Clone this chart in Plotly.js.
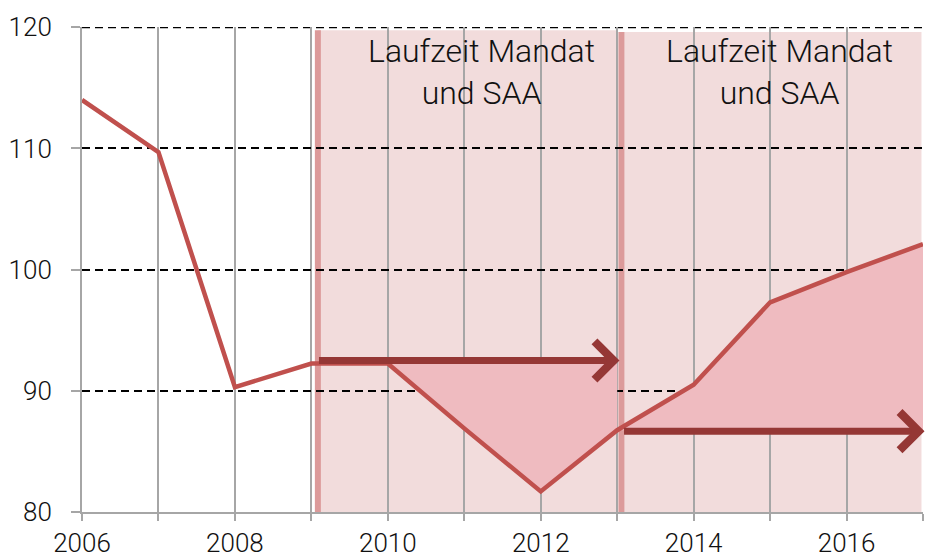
<!DOCTYPE html>
<html>
<head>
<meta charset="utf-8">
<script src="https://cdn.plot.ly/plotly-3.0.1.min.js"></script>
<style>html,body{margin:0;padding:0;background:#fff;}#chart{width:931px;height:558px;}</style>
</head>
<body>
<div id="chart"></div>
<script>
// ---- data ----
const years  = [2006, 2007, 2008, 2009, 2010, 2011, 2012, 2013, 2014, 2015, 2016, 2017];
const values = [114.0, 109.7, 90.3, 92.25, 92.25, 86.9, 81.7, 86.75, 90.5, 97.3, 99.8, 102.1];
const tickLabels = ['2006', '', '2008', '', '2010', '', '2012', '', '2014', '', '2016', ''];
const yTicks = [80, 90, 100, 110, 120];

// mandate periods (shaded bands) and target arrows
const mandateStart = [2009.08, 2013.05];
const mandateEnd   = [2013.0, 2016.98];
const mandateTop   = [119.75, 119.6];
const mandateLabel = ['Laufzeit Mandat<br>und SAA', 'Laufzeit Mandat<br>und SAA'];
const labelX       = [2011.23, 2015.12];
const arrowFrom    = [2009.08, 2013.07];
const arrowTo      = [2013.03, 2017.02];
const arrowLevel   = [92.5, 86.67];
// areas between line and target level
const area1X = [2010, 2011, 2012, 2013];
const area1Base = 92.25;
const area2X = [2013, 2014, 2015, 2016, 2017];
const area2Base = 86.75;

function valAt(x) { return values[years.indexOf(x)]; }

const lineColor = '#c0504d';
const arrowColor = '#953735';
const bandColor = '#f2dcdc';
const stripeColor = '#dc9a9a';
const areaColor = '#efbbc0';

const a1x = area1X.concat([area1X[area1X.length-1], area1X[0]]);
const a1y = area1X.map(valAt).concat([area1Base, area1Base]);
const a2x = area2X.concat([area2X[area2X.length-1], area2X[0]]);
const a2y = area2X.map(valAt).concat([area2Base, area2Base]);

const traces = [
  {x: a1x, y: a1y, type: 'scatter', mode: 'lines', fill: 'toself', fillcolor: areaColor,
   line: {width: 0, color: areaColor}, hoverinfo: 'skip', showlegend: false},
  {x: a2x, y: a2y, type: 'scatter', mode: 'lines', fill: 'toself', fillcolor: areaColor,
   line: {width: 0, color: areaColor}, hoverinfo: 'skip', showlegend: false},
  {x: years, y: values, type: 'scatter', mode: 'lines',
   line: {color: lineColor, width: 4.5}, showlegend: false}
];

const yMax = yTicks[yTicks.length - 1];
const shapes = [
  // top dashed gridline (Plotly drops the gridline at the range edge)
  {type: 'line', xref: 'paper', yref: 'y', x0: 0, x1: 1, y0: yMax, y1: yMax,
   line: {color: '#000', width: 2, dash: '8px,5px'}, layer: 'below'}
];
const annotations = [];
for (let i = 0; i < mandateStart.length; i++) {
  shapes.push({type: 'rect', xref: 'x', yref: 'y', x0: mandateStart[i], x1: mandateEnd[i],
    y0: 80, y1: mandateTop[i], fillcolor: bandColor, line: {width: 0}, layer: 'below'});
  shapes.push({type: 'line', xref: 'x', yref: 'y', x0: mandateStart[i] + 0.005, x1: mandateStart[i] + 0.005,
    y0: 80, y1: mandateTop[i], line: {color: stripeColor, width: 6}, layer: 'below'});
  annotations.push({x: labelX[i], y: 119.75, xref: 'x', yref: 'y', text: mandateLabel[i],
    showarrow: false, xanchor: 'center', yanchor: 'top',
    font: {family: 'Roboto, Liberation Sans, sans-serif', size: 32, color: '#111', weight: 300}});
  annotations.push({x: arrowTo[i], y: arrowLevel[i], ax: arrowFrom[i], ay: arrowLevel[i],
    xref: 'x', yref: 'y', axref: 'x', ayref: 'y', text: '', showarrow: true,
    arrowhead: 4, arrowsize: 1.05, arrowwidth: 7, arrowcolor: arrowColor, standoff: 0, startstandoff: 0});
}

const layout = {
  width: 931, height: 558,
  margin: {l: 82, r: 8, t: 27, b: 46},
  paper_bgcolor: '#fff', plot_bgcolor: '#fff',
  font: {family: 'Roboto, Liberation Sans, sans-serif', size: 26, color: '#111', weight: 300},
  xaxis: {range: [2006, 2017], tickvals: years, ticktext: tickLabels,
    showgrid: true, gridcolor: '#a6a6a6', gridwidth: 2,
    showline: true, linecolor: '#a6a6a6', linewidth: 2,
    ticks: 'outside', ticklen: 7, tickwidth: 2, tickcolor: '#a6a6a6',
    zeroline: false, fixedrange: true},
  yaxis: {range: [80, 120.02], tickvals: yTicks,
    showgrid: true, gridcolor: '#000', gridwidth: 2, griddash: '8px,5px',
    showline: true, linecolor: '#a6a6a6', linewidth: 2,
    ticks: 'outside', ticklen: 9, tickwidth: 2, tickcolor: '#a6a6a6',
    ticklabelstandoff: 14, zeroline: false, fixedrange: true},
  shapes: shapes,
  annotations: annotations,
  showlegend: false
};

Plotly.newPlot('chart', traces, layout, {displayModeBar: false, staticPlot: true});
</script>
</body>
</html>
